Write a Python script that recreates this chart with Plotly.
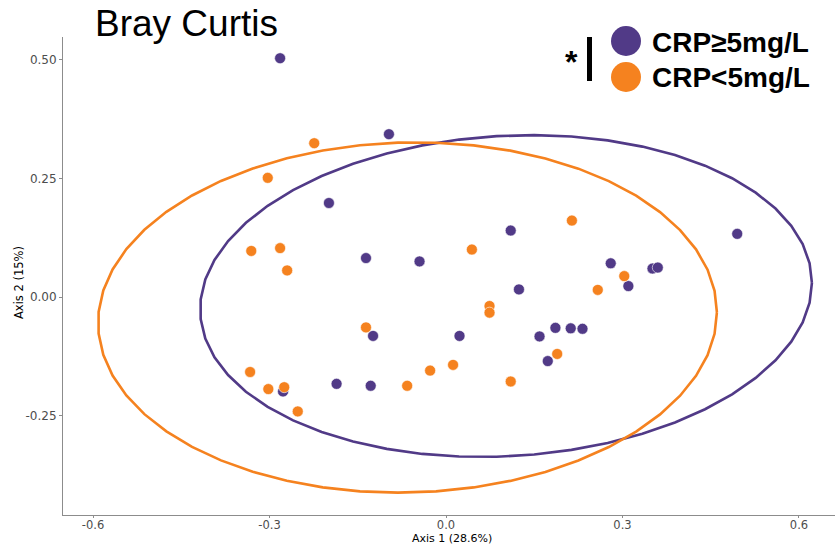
import numpy as np
import plotly.graph_objects as go

# PCoA coordinates (Bray-Curtis), group CRP >= 5 mg/L
high_x = [-0.282, -0.097, -0.199, -0.136, -0.045, 0.110, 0.495, 0.280, 0.351, 0.360, 0.310,
          0.124, 0.023, 0.159, 0.186, 0.212, 0.232, 0.173, -0.124, -0.277, -0.186, -0.128]
high_y = [0.503, 0.343, 0.198, 0.082, 0.075, 0.140, 0.133, 0.071, 0.060, 0.062, 0.023,
          0.016, -0.082, -0.083, -0.065, -0.066, -0.067, -0.135, -0.082, -0.199, -0.183, -0.187]

# group CRP < 5 mg/L
low_x = [-0.224, -0.303, -0.331, -0.282, -0.270, 0.044, 0.214, 0.303, 0.258, 0.074, 0.074,
         -0.136, 0.189, 0.110, 0.012, -0.027, -0.333, -0.302, -0.275, -0.066, -0.252]
low_y = [0.324, 0.251, 0.097, 0.103, 0.056, 0.100, 0.161, 0.044, 0.015, -0.019, -0.033,
         -0.064, -0.120, -0.178, -0.143, -0.155, -0.158, -0.194, -0.190, -0.187, -0.241]

# 95% ellipse parameters: centre x, centre y, half-width x, half-height y, correlation
high_ellipse = [0.102, 0.002, 0.520, 0.339, 0.082]
low_ellipse = [-0.0655, -0.0432, 0.526, 0.369, 0.030]

x_ticks = [-0.6, -0.3, 0.0, 0.3, 0.6]
x_tick_text = ["-0.6", "-0.3", "0.0", "0.3", "0.6"]
y_ticks = [-0.25, 0.0, 0.25, 0.50]
y_tick_text = ["-0.25", "0.00", "0.25", "0.50"]

PURPLE = "#513a87"
ORANGE = "#f5821f"


def ellipse_path(params, n=52):
    cx, cy, sx, sy, rho = params
    t = np.linspace(0, 2 * np.pi, n)
    ex = cx + sx * np.cos(t)
    ey = cy + sy * (rho * np.cos(t) + np.sqrt(1 - rho ** 2) * np.sin(t))
    return ex, ey


fig = go.Figure()

fig.add_trace(go.Scatter(x=high_x, y=high_y, mode="markers",
                         marker=dict(size=11, color=PURPLE, line=dict(width=0.6, color="white")),
                         showlegend=False))
fig.add_trace(go.Scatter(x=low_x, y=low_y, mode="markers",
                         marker=dict(size=11, color=ORANGE, line=dict(width=0.6, color="white")),
                         showlegend=False))

for params, col in [(high_ellipse, PURPLE), (low_ellipse, ORANGE)]:
    ex, ey = ellipse_path(params)
    fig.add_trace(go.Scatter(x=ex, y=ey, mode="lines",
                             line=dict(color=col, width=2.6),
                             showlegend=False, hoverinfo="skip"))

# plot area in pixels: x 63..835, y 37..515
L, R, T, B = 63, 835, 37, 515
W, H = 837, 545


def px(x):
    return (x - L) / (R - L)


def py(y):
    return (B - y) / (B - T)


shapes = [
    dict(type="circle", xref="paper", yref="paper",
         x0=px(611), x1=px(641), y0=py(56), y1=py(26),
         fillcolor=PURPLE, line=dict(width=0)),
    dict(type="circle", xref="paper", yref="paper",
         x0=px(611), x1=px(641), y0=py(92), y1=py(62),
         fillcolor=ORANGE, line=dict(width=0)),
    dict(type="line", xref="paper", yref="paper",
         x0=px(589.5), x1=px(589.5), y0=py(37), y1=py(81),
         line=dict(color="black", width=5)),
]

annotations = [
    dict(text="<b>CRP≥5mg/L</b>", xref="paper", yref="paper", x=px(650), y=py(42),
         xanchor="left", yanchor="middle", showarrow=False,
         font=dict(family="Liberation Sans, Arial, sans-serif", size=28, color="black")),
    dict(text="<b>CRP<5mg/L</b>", xref="paper", yref="paper", x=px(650), y=py(77),
         xanchor="left", yanchor="middle", showarrow=False,
         font=dict(family="Liberation Sans, Arial, sans-serif", size=28, color="black")),
    dict(text="<b>*</b>", xref="paper", yref="paper", x=px(571), y=py(62),
         xanchor="center", yanchor="middle", showarrow=False,
         font=dict(family="Liberation Sans, Arial, sans-serif", size=32, color="black")),
    # axis titles
    dict(text="Axis 1 (28.6%)", xref="paper", yref="paper", x=px(452), y=py(538.5),
         xanchor="center", yanchor="middle", showarrow=False,
         font=dict(family="DejaVu Sans, sans-serif", size=11, color="black")),
    dict(text="Axis 2 (15%)", xref="paper", yref="paper", x=px(19), y=py(283),
         xanchor="center", yanchor="middle", showarrow=False, textangle=-90,
         font=dict(family="DejaVu Sans, sans-serif", size=11.5, color="black")),
]

fig.update_layout(
    width=W, height=H,
    margin=dict(l=L, r=W - R, t=T, b=H - B),
    paper_bgcolor="white", plot_bgcolor="white",
    title=dict(text="Bray Curtis", x=95 / W, xanchor="left", xref="container",
               y=1 - 23 / H, yanchor="middle", yref="container",
               font=dict(family="Liberation Sans, Arial, sans-serif", size=37, color="black")),
    shapes=shapes, annotations=annotations,
    font=dict(family="DejaVu Sans, sans-serif"),
)

fig.update_xaxes(range=[(L - 446) / 588.3, (R - 446) / 588.3],
                 tickvals=x_ticks, ticktext=x_tick_text, automargin=False,
                 showgrid=False, zeroline=False, showline=True, linecolor="#8c8c8c", linewidth=1,
                 ticks="outside", ticklen=2, tickcolor="#8c8c8c", ticklabelstandoff=-3,
                 tickfont=dict(size=11.5, color="#4d4d4d"))
fig.update_yaxes(range=[(297 - B) / 474.7, (297 - T) / 474.7],
                 tickvals=y_ticks, ticktext=y_tick_text, automargin=False,
                 showgrid=False, zeroline=False, showline=True, linecolor="#8c8c8c", linewidth=1,
                 ticks="outside", ticklen=3, tickcolor="#8c8c8c",
                 tickfont=dict(size=12, color="#4d4d4d"))

fig.write_html("out.html")
